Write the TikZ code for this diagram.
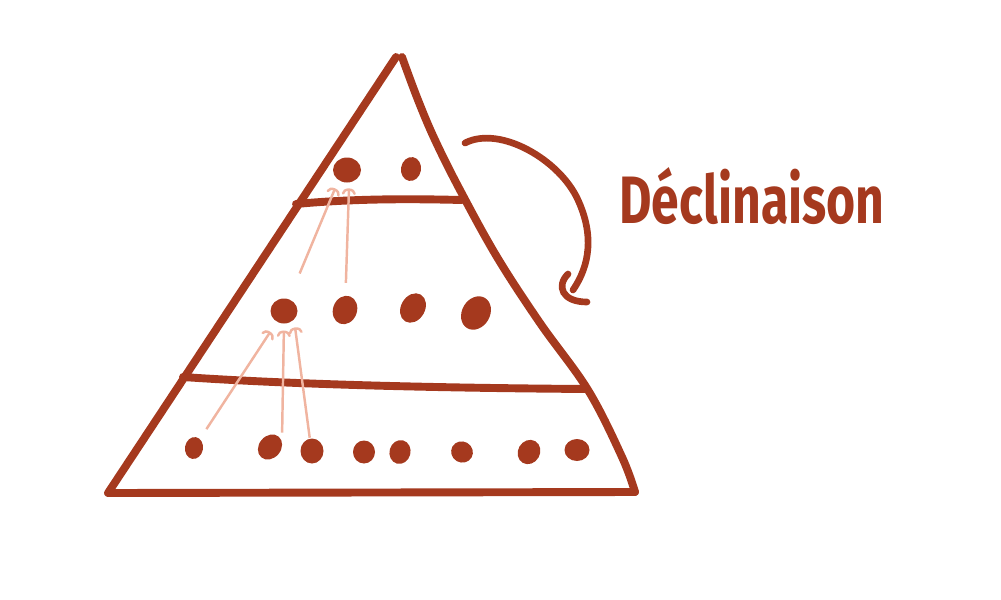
\documentclass[tikz,border=0pt]{standalone}
\usepackage{fontspec}
\usepackage{graphicx}
\usepackage{tikz}
\usetikzlibrary{shapes.geometric}
\usetikzlibrary{arrows.meta}
\newfontfamily\handFont{Fira Sans}
\tikzstyle{sketch} = [x = .02cm, y = -.02cm]
\definecolor{inkColor}{RGB}{165,57,30}
\definecolor{arrowColor}{RGB}{240,180,160}
\tikzstyle{edgeLine} = [color=inkColor, line width=4.5pt, line cap=round, line join=round]
\tikzstyle{curlLine} = [color=inkColor, line width=3.8pt, line cap=round]
\tikzstyle{dotStyle} = [ellipse, fill=inkColor, inner sep=0pt, outer sep=0pt]
\tikzstyle{inheritArrow} = [color=arrowColor, line width=1.4pt, -{Arc Barb[length=3pt, width=8pt, line cap=round]}]
\tikzstyle{labelText} = [color=inkColor, inner sep=0pt]
\newcommand{\px}{.02cm}
\newcommand{\dotNode}[6]{\node [dotStyle, minimum width=#4*\px, minimum height=#5*\px, rotate=#6] (#1) at (#2,#3) {};}

\begin{document}
\begin{tikzpicture}[sketch]
  \useasboundingbox (0,0) rectangle (1001,599);

  % pyramid outline
  \draw [edgeLine] plot [smooth, tension=.6] coordinates {(402,57) (418,100) (435,140) (460,190) (497,257) (540,323) (588,390) (622,457) (635,492)};
  \draw [edgeLine] (635,492) -- (108,493) -- (396,57);
  \draw [edgeLine] (296,204) .. controls (360,198) and (420,199) .. (462,200);
  \draw [edgeLine] (183,377) .. controls (300,385) and (450,388) .. (587,389);

  % top level
  \dotNode{t1}{347}{170}{28}{25}{0}
  \dotNode{t2}{411}{169}{20}{24}{-10}
  % middle level
  \dotNode{m1}{284}{311}{27}{25}{0}
  \dotNode{m2}{345}{310}{24}{29}{-20}
  \dotNode{m3}{413}{308}{24}{31}{-30}
  \dotNode{m4}{476}{313}{28}{35}{-30}
  % bottom level
  \dotNode{b1}{194}{448}{18}{22}{-10}
  \dotNode{b2}{270}{447}{22}{27}{-40}
  \dotNode{b3}{312}{451}{23}{25}{0}
  \dotNode{b4}{364}{452}{22}{23}{0}
  \dotNode{b5}{400}{452}{21}{24}{-15}
  \dotNode{b6}{462}{452}{22}{21}{-30}
  \dotNode{b7}{529}{452}{22}{25}{-30}
  \dotNode{b8}{577}{450}{25}{22}{0}

  \draw [inheritArrow, shorten <= 12*\px, shorten >= 12*\px] (b1) -- (m1);
  \draw [inheritArrow, shorten <= 10*\px, shorten >= 7*\px] (b2.60) -- (m1.-90);
  \draw [inheritArrow, shorten <= 1*\px, shorten >= 8*\px] (b3.100) -- (m1.-40);
  \draw [inheritArrow, shorten <= 28*\px, shorten >= 9*\px] (m1) -- (t1.-130);
  \draw [inheritArrow, shorten <= 13*\px, shorten >= 6*\px] (m2) -- (t1.-80);

  % label and curl
  \node [labelText] (title) at (752,196) {\resizebox{5.3cm}{1.12cm}{\handFont\bfseries Déclinaison}};
  \coordinate (curlStart) at (465,143);
  \coordinate (curlEnd) at (573,290);
  \draw [curlLine] (curlStart) .. controls (500,125) and (560,160) .. (578,200) .. controls (594,235) and (590,265) .. (curlEnd);
  \draw [curlLine] (568,274) .. controls (556,286) and (562,302) .. (587,302);
\end{tikzpicture}
\end{document}
